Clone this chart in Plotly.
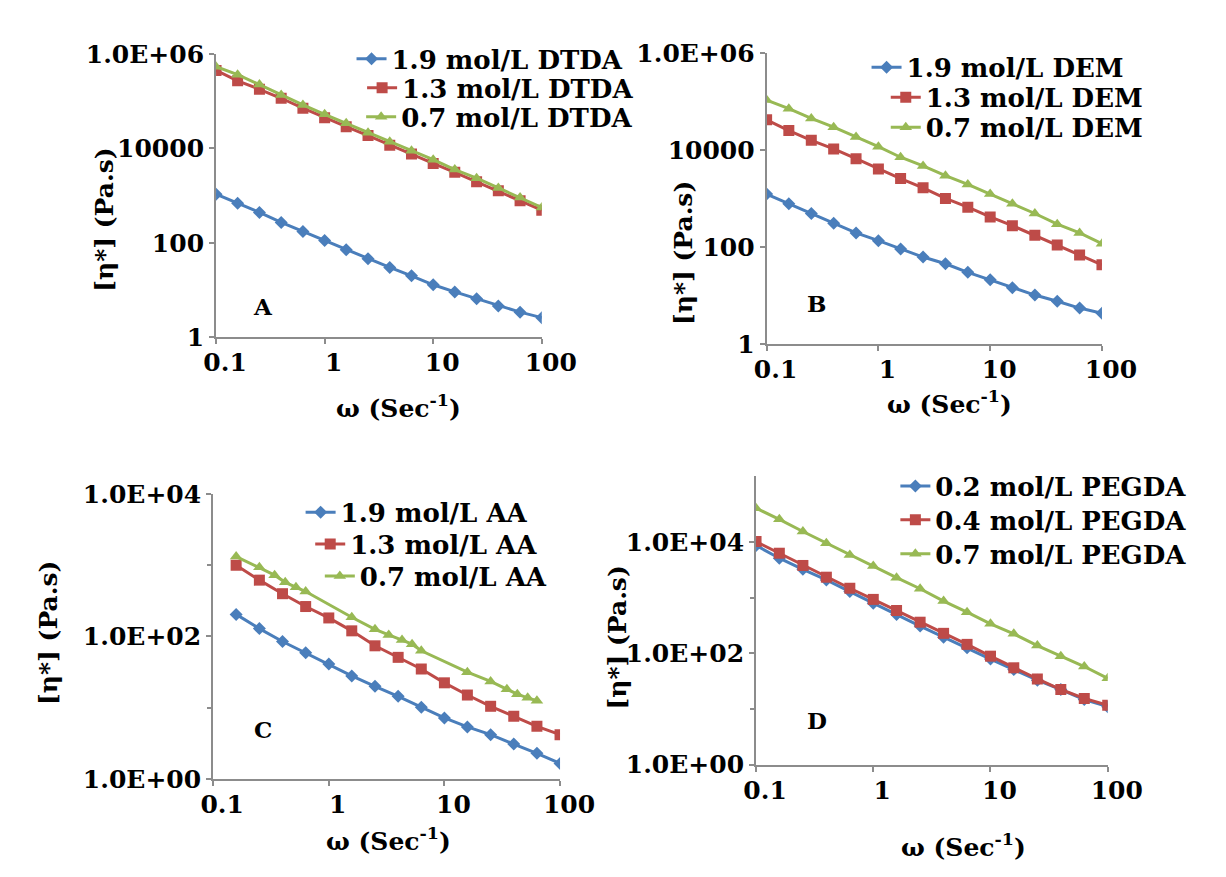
import plotly.graph_objects as go

W, H = 1226, 877

# ---------------- data ----------------
omega = [0.1, 0.158, 0.251, 0.398, 0.631, 1, 1.58, 2.51, 3.98, 6.31, 10, 15.8, 25.1, 39.8, 63.1, 100]
omega_c = omega[1:]
omega_c_green = [0.158, 0.251, 0.34, 0.42, 0.52, 0.631, 1.58, 2.51, 3.3, 4.3, 5.25, 6.31,
                 15.8, 25.1, 34.7, 42.7, 52.5, 63.1]

a_19 = [1070, 690, 440, 270, 174, 112, 71, 46, 30, 20, 12.9, 9.1, 6.5, 4.6, 3.4, 2.6]
a_13 = [447000, 269000, 178000, 115000, 70800, 44700, 28800, 18600, 11700, 7600, 4800, 3100, 1950, 1260, 780, 490]
a_07 = [537000, 363000, 224000, 135000, 83200, 52500, 33900, 21400, 13800, 8900, 5750, 3550, 2340, 1450, 910, 560]

b_19 = [1230, 776, 490, 309, 195, 135, 91, 62, 45, 30, 21, 14.5, 10.2, 7.6, 5.5, 4.3]
b_13 = [41700, 25100, 15800, 10500, 6600, 4070, 2570, 1660, 1000, 660, 417, 275, 174, 110, 68, 43]
b_07 = [107000, 70800, 44700, 29500, 18600, 11700, 7080, 4680, 2950, 1950, 1230, 776, 490, 295, 195, 117]

c_19 = [204, 129, 85, 59, 41, 28, 20, 14.5, 10.2, 7.2, 5.4, 4.2, 3.1, 2.3, 1.66]
c_13 = [1000, 617, 398, 263, 182, 120, 74, 51, 35, 22.4, 15.1, 10.5, 7.6, 5.5, 4.2]
c_07 = [1320, 933, 724, 575, 490, 427, 186, 126, 105, 89, 78, 63, 31.6, 23.4, 18.2, 15.5, 13.8, 12.6]

d_02 = [8710, 5130, 3240, 2090, 1290, 794, 501, 309, 195, 126, 79, 51, 33, 22.4, 14.8, 11.0]
d_04 = [10200, 6310, 3800, 2340, 1480, 933, 589, 363, 229, 145, 89, 55, 34.7, 22.4, 15.5, 11.7]
d_07 = [40700, 25700, 15500, 9550, 5890, 3720, 2290, 1450, 871, 550, 339, 224, 138, 89, 58, 35.5]

x_ticks = [0.1, 1, 10, 100]
x_ticktext = ["0.1", "1", "10", "100"]
ab_yticks = [1, 100, 10000, 1e6]
ab_yticktext = ["1", "100", "10000", "1.0E+06"]
cd_yticks = [1, 100, 10000]
cd_yticktext = ["1.0E+00", "1.0E+02", "1.0E+04"]

names_a = ["1.9 mol/L DTDA", "1.3 mol/L DTDA", "0.7 mol/L DTDA"]
names_b = ["1.9 mol/L DEM", "1.3 mol/L DEM", "0.7 mol/L DEM"]
names_c = ["1.9 mol/L AA", "1.3 mol/L AA", "0.7 mol/L AA"]
names_d = ["0.2 mol/L PEGDA", "0.4 mol/L PEGDA", "0.7 mol/L PEGDA"]

# ---------------- style ----------------
FONT = "DejaVu Serif"
BLUE, RED, GREEN = "#4A7EBB", "#BE4B48", "#98B954"
AXC = "#8C8C8C"
COLORS = [BLUE, RED, GREEN]
SYMBOLS = ["diamond", "square", "triangle-up"]
MSIZE = [10, 11, 11]


def px_x(v):
    return v / W


def px_y(v):
    return 1 - v / H


# panel plot areas in pixels: (x0, x1, ytop, ybottom)
panels = {
    1: (203, 542, 33, 326),
    2: (776, 1125, 32, 333),
    3: (200, 561, 488, 783),
    4: (765, 1131, 470, 768),
}
yranges = {1: [0, 6], 2: [0, 6], 3: [0, 4], 4: [0, 5.18]}

series = [
    (1, omega, a_19, names_a[0], 0), (1, omega, a_13, names_a[1], 1), (1, omega, a_07, names_a[2], 2),
    (2, omega, b_19, names_b[0], 0), (2, omega, b_13, names_b[1], 1), (2, omega, b_07, names_b[2], 2),
    (3, omega_c, c_19, names_c[0], 0), (3, omega_c, c_13, names_c[1], 1), (3, omega_c_green, c_07, names_c[2], 2),
    (4, omega, d_02, names_d[0], 0), (4, omega, d_04, names_d[1], 1), (4, omega, d_07, names_d[2], 2),
]

# legend text start (px) and row centre (px)
legend_pos = [
    (386, 38), (397, 68), (396, 98),
    (922, 47), (942, 78), (942, 109),
    (333, 507), (343, 540), (353, 573),
    (952, 480), (952, 515), (952, 550),
]

fig = go.Figure()
layout = dict(
    width=W, height=H,
    margin=dict(l=0, r=0, t=0, b=0),
    paper_bgcolor="white", plot_bgcolor="white",
    font=dict(family=FONT, color="black"),
    showlegend=True,
)

for i, (p, xs, ys, name, k) in enumerate(series):
    sfx = "" if p == 1 else str(p)
    leg = "legend" if i == 0 else f"legend{i + 1}"
    fig.add_trace(go.Scatter(
        x=xs, y=ys, name=name, mode="lines+markers",
        xaxis="x" + sfx, yaxis="y" + sfx,
        line=dict(color=COLORS[k], width=3),
        marker=dict(symbol=SYMBOLS[k], size=MSIZE[k], color=COLORS[k]),
        legend=leg,
    ))
    tx, ty = legend_pos[i]
    layout[leg] = dict(
        x=px_x(tx - 42), y=px_y(ty), xanchor="left", yanchor="middle",
        bgcolor="rgba(0,0,0,0)", borderwidth=0, itemwidth=30,
        font=dict(family=FONT, size=26, color="black", weight="bold"),
    )

for p, (x0, x1, yt, yb) in panels.items():
    sfx = "" if p == 1 else str(p)
    tickfont = dict(family=FONT, size=25, color="black", weight="bold")
    if p in (1, 2):
        tv, tt = ab_yticks, ab_yticktext
        minor = None
    else:
        tv, tt = cd_yticks, cd_yticktext
        minor = dict(tickmode="array", tickvals=[10, 1000], ticks="outside",
                     ticklen=4, tickcolor=AXC, showgrid=False)
    layout["xaxis" + sfx] = dict(
        type="log", range=[-1, 2], domain=[px_x(x0), px_x(x1)],
        anchor="y" + sfx, showgrid=False, zeroline=False,
        showline=True, linecolor=AXC, linewidth=2,
        ticks="outside", ticklen=5, tickcolor=AXC, tickwidth=1.5,
        tickmode="array", tickvals=x_ticks, ticktext=x_ticktext,
        tickfont=tickfont, ticklabelstandoff=-3, ticklabelshift=9,
    )
    ydict = dict(
        type="log", range=yranges[p], domain=[px_y(yb), px_y(yt)],
        anchor="x" + sfx, showgrid=False, zeroline=False,
        showline=True, linecolor=AXC, linewidth=2,
        ticks="outside", ticklen=5, tickcolor=AXC, tickwidth=1.5,
        tickmode="array", tickvals=tv, ticktext=tt,
        tickfont=tickfont,
    )
    if minor:
        ydict["minor"] = minor
    layout["yaxis" + sfx] = ydict

fig.update_layout(**layout)

# panel letters and axis titles
letters = [("A", 252, 294), ("B", 828, 291), ("C", 252, 732), ("D", 828, 722)]
for t, x, y in letters:
    fig.add_annotation(text=t, x=px_x(x), y=px_y(y), xref="paper", yref="paper",
                       showarrow=False, xanchor="center", yanchor="middle",
                       font=dict(family=FONT, size=23, color="black", weight="bold"))

xtitles = [(393, 398), (966, 394), (382, 845), (981, 852)]
for x, y in xtitles:
    fig.add_annotation(text="ω (Sec<sup>-1</sup>)", x=px_x(x), y=px_y(y), xref="paper", yref="paper",
                       showarrow=False, xanchor="center", yanchor="middle",
                       font=dict(family=FONT, size=25, color="black", weight="bold"))

ytitles = [(87, 205), (689, 239), (28, 632), (621, 637)]
for x, y in ytitles:
    fig.add_annotation(text="[η*] (Pa.s)", x=px_x(x), y=px_y(y), xref="paper", yref="paper",
                       showarrow=False, xanchor="center", yanchor="middle", textangle=-90,
                       font=dict(family=FONT, size=25, color="black", weight="bold"))

fig.write_html("out.html")
